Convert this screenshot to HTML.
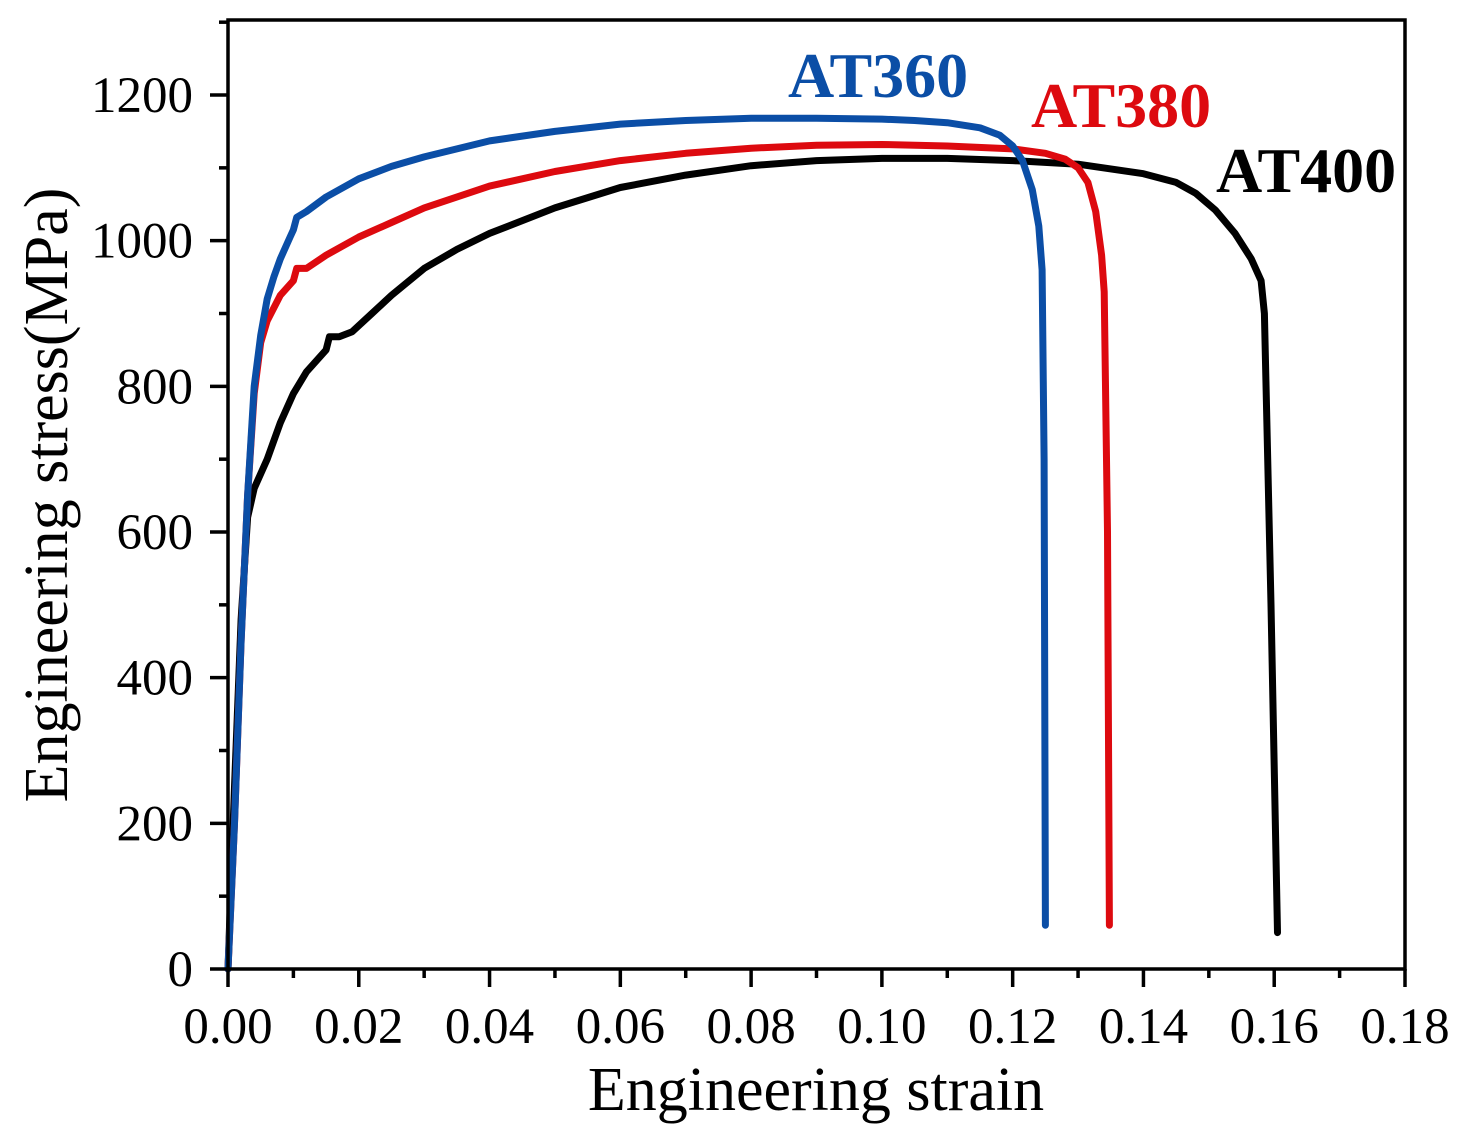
<!DOCTYPE html>
<html><head><meta charset="utf-8"><style>
html,body{margin:0;padding:0;background:#fff;}
svg{display:block;}
text{font-family:"Liberation Serif",serif;}
</style></head><body>
<svg id="chart" width="1469" height="1141" viewBox="0 0 1469 1141" xmlns="http://www.w3.org/2000/svg">
<g id="series"></g>
<g id="axes"></g>
<text x="788" y="97" font-size="64" font-weight="bold" fill="#0b4ea6">AT360</text>
<text x="1031" y="127" font-size="64" font-weight="bold" fill="#dd0a0f">AT380</text>
<text x="1216" y="192" font-size="64" font-weight="bold" fill="#000">AT400</text>
<text x="816" y="1110" font-size="62" text-anchor="middle">Engineering strain</text>
<text transform="translate(67,495) rotate(-90)" font-size="62" text-anchor="middle">Engineering stress(MPa)</text>
</svg>
<script>
const xTicks = [0, 0.02, 0.04, 0.06, 0.08, 0.10, 0.12, 0.14, 0.16, 0.18];
const xTickLabels = ["0.00","0.02","0.04","0.06","0.08","0.10","0.12","0.14","0.16","0.18"];
const yTicks = [0, 200, 400, 600, 800, 1000, 1200];
const yTickLabels = ["0","200","400","600","800","1000","1200"];
const at360Strain = [0,0.001,0.002,0.003,0.004,0.005,0.006,0.007,0.008,0.0095,0.0100,0.0105,0.012,0.015,0.02,0.025,0.03,0.04,0.05,0.06,0.07,0.08,0.09,0.10,0.105,0.11,0.115,0.118,0.120,0.1215,0.123,0.124,0.1245,0.1248,0.125];
const at360Stress = [0,200,450,650,800,870,920,950,975,1005,1015,1032,1040,1060,1085,1102,1115,1137,1150,1160,1165,1168,1168,1167,1165,1162,1155,1145,1130,1110,1070,1020,960,700,60];
const at380Strain = [0,0.001,0.002,0.003,0.004,0.005,0.006,0.008,0.010,0.0105,0.012,0.015,0.02,0.025,0.03,0.04,0.05,0.06,0.07,0.08,0.09,0.10,0.11,0.12,0.125,0.128,0.130,0.1315,0.1327,0.1336,0.134,0.1345,0.1348];
const at380Stress = [0,200,450,650,790,860,890,925,945,962,962,980,1005,1025,1045,1075,1095,1110,1120,1127,1131,1132,1130,1126,1120,1112,1100,1080,1040,980,930,600,60];
const at400Strain = [0,0.001,0.002,0.003,0.004,0.006,0.008,0.010,0.012,0.015,0.0155,0.017,0.019,0.022,0.025,0.03,0.035,0.04,0.05,0.06,0.07,0.08,0.09,0.10,0.11,0.12,0.13,0.14,0.145,0.148,0.151,0.154,0.1565,0.158,0.1585,0.1595,0.1605];
const at400Stress = [0,250,480,620,660,700,750,790,820,850,868,868,875,900,925,962,988,1010,1045,1073,1090,1103,1110,1113,1113,1110,1105,1092,1080,1065,1042,1010,975,945,900,500,50];

const X0=228, X1=1405, Y0=969, Y1=20, XMAX=0.18, YMAX=1303;
const sx = v => X0 + v/XMAX*(X1-X0);
const sy = v => Y0 - v/YMAX*(Y0-Y1);
const NS="http://www.w3.org/2000/svg";
const series=document.getElementById('series'), axes=document.getElementById('axes');
function mk(tag, attrs, parent){const e=document.createElementNS(NS,tag);for(const k in attrs)e.setAttribute(k,attrs[k]);parent.appendChild(e);return e;}

function drawLine(xs, ys, color, name){
  const d = xs.map((v,i)=>(i?'L':'M')+sx(v).toFixed(1)+' '+sy(ys[i]).toFixed(1)).join(' ');
  const p = mk('path',{d:d,fill:'none',stroke:color,'stroke-width':7,'stroke-linejoin':'round','stroke-linecap':'round'},series);
  
  
}
drawLine(at400Strain, at400Stress, '#000', 'line-at400');
drawLine(at380Strain, at380Stress, '#dd0a0f', 'line-at380');
drawLine(at360Strain, at360Stress, '#0b4ea6', 'line-at360');

const frame = mk('rect',{x:X0,y:Y1,width:X1-X0,height:Y0-Y1,fill:'none',stroke:'#000','stroke-width':3.5},axes);



xTicks.forEach((v,i)=>{
  const t = mk('line',{x1:sx(v),x2:sx(v),y1:Y0,y2:Y0+18,stroke:'#000','stroke-width':3.5},axes);
  
  
  if(i<xTicks.length-1){
    const m = mk('line',{x1:sx(v+0.01),x2:sx(v+0.01),y1:Y0,y2:Y0+9,stroke:'#000','stroke-width':3.5},axes);
    
    
  }
  const l = mk('text',{x:sx(v),y:1043,'font-size':51,'text-anchor':'middle'},axes);
  l.textContent = xTickLabels[i];
  
  
});
yTicks.forEach((v,i)=>{
  const t = mk('line',{x1:X0-18,x2:X0,y1:sy(v),y2:sy(v),stroke:'#000','stroke-width':3.5},axes);
  
  
  const m = mk('line',{x1:X0-9,x2:X0,y1:sy(v+100),y2:sy(v+100),stroke:'#000','stroke-width':3.5},axes);
  
  
  const l = mk('text',{x:X0-35,y:sy(v)+17,'font-size':51,'text-anchor':'end'},axes);
  l.textContent = yTickLabels[i];
  
  
});
</script>
</body></html>
